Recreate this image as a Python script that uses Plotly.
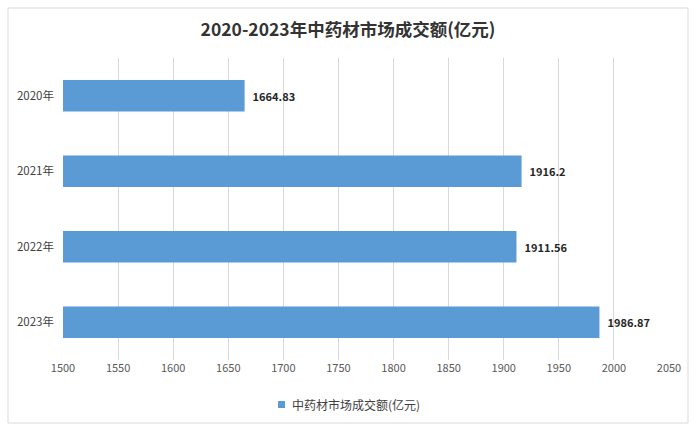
import plotly.graph_objects as go

categories = ["2020年", "2021年", "2022年", "2023年"]
values = [1664.83, 1916.2, 1911.56, 1986.87]
labels = ["1664.83", "1916.2", "1911.56", "1986.87"]
series_name = "中药材市场成交额(亿元)"
title_text = "2020-2023年中药材市场成交额(亿元)"
x_ticks = list(range(1500, 2051, 50))

CJK = "'Noto Sans CJK SC', sans-serif"

W, H = 697, 435
L, R, T, B = 63, 28, 58, 75
pw, ph = W - L - R, H - T - B


def px(x):
    return (x - L) / pw


def py(y):
    return (H - B - y) / ph


fig = go.Figure()
fig.add_trace(go.Bar(
    y=categories, x=values, orientation="h",
    name=series_name,
    marker=dict(color="#5B9BD5", line=dict(width=0)),
    width=0.42,
    text=["  " + s for s in labels], textposition="outside",
    textfont=dict(size=11, color="#262626", family=CJK, weight="bold"),
    cliponaxis=False,
    showlegend=False,
))

fig.update_layout(
    width=W, height=H,
    margin=dict(l=L, r=R, t=T, b=B, autoexpand=False),
    paper_bgcolor="white", plot_bgcolor="white",
    font=dict(family=CJK, color="#595959", size=11),
    title=dict(text=title_text, x=(348) / W, xanchor="center", xref="container",
               y=1 - 30 / H, yanchor="middle", yref="container",
               font=dict(size=17.5, color="#333333", family=CJK, weight="bold")),
    xaxis=dict(range=[1500, 2050], tickvals=x_ticks, showgrid=True, gridcolor="#D9D9D9",
               gridwidth=1, zeroline=False, showline=False, ticks="", automargin=False,
               tickfont=dict(size=11, color="#595959"), fixedrange=True),
    yaxis=dict(autorange="reversed", showgrid=False, ticks="", showline=False, automargin=False,
               ticklabelstandoff=8,
               tickfont=dict(size=11.5, color="#404040")),
    showlegend=False,
    shapes=[
        dict(type="rect", xref="paper", yref="paper", x0=px(8), x1=px(688), y0=py(423), y1=py(8),
             line=dict(color="#D9D9D9", width=1), fillcolor="rgba(0,0,0,0)", layer="below"),
        dict(type="rect", xref="paper", yref="paper", x0=px(278), x1=px(285), y0=py(408), y1=py(401),
             line=dict(width=0), fillcolor="#5B9BD5"),
    ],
    annotations=[
        dict(text=series_name, xref="paper", yref="paper", x=px(290), y=py(404.5),
             xanchor="left", yanchor="middle", showarrow=False,
             font=dict(size=12, color="#404040", family=CJK)),
    ],
)
fig.write_html(
    "out.html",
    config={"displayModeBar": False},
    post_script="document.body.style.margin='0';document.body.style.overflow='hidden';",
)
